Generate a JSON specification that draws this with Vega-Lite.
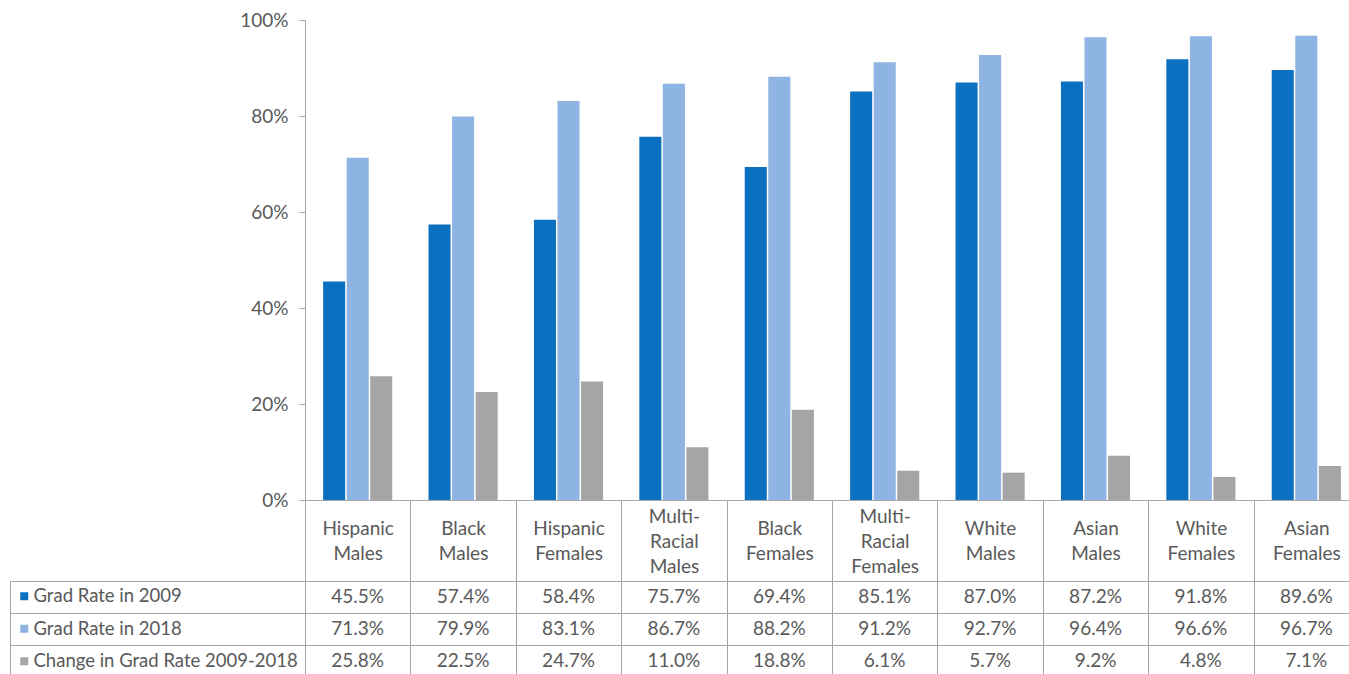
{
  "$schema": "https://vega.github.io/schema/vega-lite/v6.json",
  "background": "white",
  "padding": {"left": 9, "top": 11, "right": 0, "bottom": 0},
  "config": {
    "font": "Lato",
    "view": {"stroke": null},
    "axis": {"labelFont": "Lato", "labelColor": "#595959", "labelFontSize": 19, "domainColor": "#a6a6a6", "tickColor": "#a6a6a6", "gridColor": "#a6a6a6", "title": null},
    "legend": {"labelFont": "Lato"}
  },
  "datasets": {
    "rates": [
      {"group": "Hispanic Males", "series": "Grad Rate in 2009", "value": 0.455},
      {"group": "Hispanic Males", "series": "Grad Rate in 2018", "value": 0.713},
      {"group": "Hispanic Males", "series": "Change in Grad Rate 2009-2018", "value": 0.258},
      {"group": "Black Males", "series": "Grad Rate in 2009", "value": 0.574},
      {"group": "Black Males", "series": "Grad Rate in 2018", "value": 0.799},
      {"group": "Black Males", "series": "Change in Grad Rate 2009-2018", "value": 0.225},
      {"group": "Hispanic Females", "series": "Grad Rate in 2009", "value": 0.584},
      {"group": "Hispanic Females", "series": "Grad Rate in 2018", "value": 0.831},
      {"group": "Hispanic Females", "series": "Change in Grad Rate 2009-2018", "value": 0.247},
      {"group": "Multi-Racial Males", "series": "Grad Rate in 2009", "value": 0.757},
      {"group": "Multi-Racial Males", "series": "Grad Rate in 2018", "value": 0.867},
      {"group": "Multi-Racial Males", "series": "Change in Grad Rate 2009-2018", "value": 0.110},
      {"group": "Black Females", "series": "Grad Rate in 2009", "value": 0.694},
      {"group": "Black Females", "series": "Grad Rate in 2018", "value": 0.882},
      {"group": "Black Females", "series": "Change in Grad Rate 2009-2018", "value": 0.188},
      {"group": "Multi-Racial Females", "series": "Grad Rate in 2009", "value": 0.851},
      {"group": "Multi-Racial Females", "series": "Grad Rate in 2018", "value": 0.912},
      {"group": "Multi-Racial Females", "series": "Change in Grad Rate 2009-2018", "value": 0.061},
      {"group": "White Males", "series": "Grad Rate in 2009", "value": 0.870},
      {"group": "White Males", "series": "Grad Rate in 2018", "value": 0.927},
      {"group": "White Males", "series": "Change in Grad Rate 2009-2018", "value": 0.057},
      {"group": "Asian Males", "series": "Grad Rate in 2009", "value": 0.872},
      {"group": "Asian Males", "series": "Grad Rate in 2018", "value": 0.964},
      {"group": "Asian Males", "series": "Change in Grad Rate 2009-2018", "value": 0.092},
      {"group": "White Females", "series": "Grad Rate in 2009", "value": 0.918},
      {"group": "White Females", "series": "Grad Rate in 2018", "value": 0.966},
      {"group": "White Females", "series": "Change in Grad Rate 2009-2018", "value": 0.048},
      {"group": "Asian Females", "series": "Grad Rate in 2009", "value": 0.896},
      {"group": "Asian Females", "series": "Grad Rate in 2018", "value": 0.967},
      {"group": "Asian Females", "series": "Change in Grad Rate 2009-2018", "value": 0.071}
    ]
  },
  "data": {"name": "rates"},
  "bounds": "flush",
  "spacing": 81,
  "resolve": {"scale": {"color": "independent"}, "legend": {"color": "independent"}},
  "vconcat": [
    {
      "width": 1054,
      "height": 480,
      "mark": {"type": "bar"},
      "encoding": {
        "x": {
          "field": "group", "type": "nominal", "sort": null,
          "scale": {"paddingInner": 0, "paddingOuter": 0},
          "axis": {
            "orient": "bottom", "labelAngle": 0, "domain": true, "ticks": true,
            "tickBand": "extent", "tickSize": 81, "labelBaseline": "middle",
            "labelPadding": {"condition": {"test": "isString(datum.value) && indexof(datum.value, 'Multi') == 0", "value": -65}, "value": -52.5},
            "labelLineHeight": 25, "labelOverlap": false, "labelLimit": 0,
            "labelExpr": "!isString(datum.value) ? '' : datum.value == 'Multi-Racial Males' ? ['Multi-','Racial','Males'] : datum.value == 'Multi-Racial Females' ? ['Multi-','Racial','Females'] : split(datum.value, ' ')"
          }
        },
        "xOffset": {
          "field": "series", "type": "nominal",
          "scale": {"domain": ["Grad Rate in 2009", "Grad Rate in 2018", "Change in Grad Rate 2009-2018"], "paddingInner": 0.064, "paddingOuter": 0.77}
        },
        "y": {
          "field": "value", "type": "quantitative",
          "scale": {"domain": [0, 1], "nice": false},
          "axis": {"format": ".0%", "tickCount": 5, "grid": false, "domain": true, "ticks": true, "tickSize": 6, "labelPadding": 11}
        },
        "color": {
          "field": "series", "type": "nominal",
          "scale": {"domain": ["Grad Rate in 2009", "Grad Rate in 2018", "Change in Grad Rate 2009-2018"], "range": ["#0b70c0", "#8db4e2", "#a5a5a5"]},
          "legend": {
            "orient": "none", "legendX": -290, "legendY": 567, "title": null,
            "symbolType": "square", "symbolSize": 64, "symbolStrokeWidth": 0,
            "labelFontSize": 18.5, "labelColor": "#595959", "labelOffset": 0, "labelLimit": 0,
            "rowPadding": 13.5, "padding": 0, "direction": "vertical"
          }
        }
      }
    },
    {
      "width": 1054,
      "height": 96,
      "mark": {"type": "text", "fontSize": 19, "color": "#595959", "font": "Lato"},
      "encoding": {
        "x": {
          "field": "group", "type": "nominal", "sort": null,
          "scale": {"paddingInner": 0, "paddingOuter": 0},
          "axis": {"orient": "top", "labels": false, "ticks": false, "domain": false, "grid": true, "tickBand": "extent"}
        },
        "y": {
          "field": "series", "type": "nominal",
          "scale": {"domain": ["Grad Rate in 2009", "Grad Rate in 2018", "Change in Grad Rate 2009-2018"], "paddingInner": 0, "paddingOuter": 0},
          "axis": {"orient": "left", "offset": 295, "labels": false, "domain": true, "ticks": true, "tickSize": -295, "tickBand": "extent", "grid": true}
        },
        "text": {"field": "value", "type": "quantitative", "format": ".1%"}
      }
    }
  ]
}
